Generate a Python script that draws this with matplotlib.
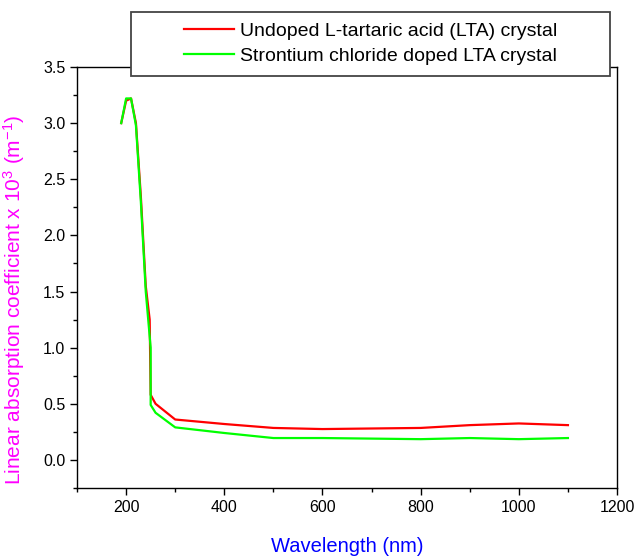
import matplotlib
matplotlib.use("Agg")
import matplotlib.pyplot as plt
from matplotlib.ticker import MultipleLocator
from matplotlib.patches import Rectangle

plt.rcParams['font.family'] = ['Liberation Sans', 'DejaVu Sans']
plt.rcParams['mathtext.fontset'] = 'custom'
plt.rcParams['mathtext.rm'] = 'Liberation Sans'
plt.rcParams['mathtext.it'] = 'Liberation Sans'

wl_undoped = [190, 200, 210, 220, 230, 240, 248, 250, 260, 300, 400, 500, 600, 700, 800, 900, 1000, 1100]
abs_undoped = [3.0, 3.2, 3.22, 3.0, 2.35, 1.55, 1.25, 0.58, 0.5, 0.36, 0.32, 0.285, 0.275, 0.28, 0.285, 0.31, 0.325, 0.31]

wl_doped = [190, 200, 210, 220, 230, 240, 250, 250, 260, 300, 400, 500, 600, 700, 800, 900, 1000, 1100]
abs_doped = [3.0, 3.22, 3.22, 2.98, 2.3, 1.5, 1.0, 0.49, 0.42, 0.29, 0.24, 0.195, 0.195, 0.19, 0.185, 0.195, 0.185, 0.195]

label_undoped = "Undoped L-tartaric acid (LTA) crystal"
label_doped = "Strontium chloride doped LTA crystal"

fig = plt.figure(figsize=(6.35, 5.56), dpi=100)
ax = fig.add_axes([0.1213, 0.1223, 0.8504, 0.7572])

ax.plot(wl_undoped, abs_undoped, color='#ff0000', lw=1.6, label=label_undoped, zorder=2)
ax.plot(wl_doped, abs_doped, color='#00ff00', lw=1.6, label=label_doped, zorder=3)

ax.set_xlim(100, 1200)
ax.set_ylim(-0.25, 3.5)
ax.xaxis.set_major_locator(MultipleLocator(200))
ax.xaxis.set_minor_locator(MultipleLocator(100))
ax.yaxis.set_major_locator(MultipleLocator(0.5))
ax.yaxis.set_minor_locator(MultipleLocator(0.25))
ax.yaxis.set_major_formatter(matplotlib.ticker.FormatStrFormatter('%.1f'))
ax.xaxis.set_major_formatter(matplotlib.ticker.FormatStrFormatter('%d'))

ax.tick_params(which='both', direction='out', top=False, right=False, labelsize=11.5, width=1.0)
ax.tick_params(which='major', length=5)
ax.tick_params(which='minor', length=3)
for s in ax.spines.values():
    s.set_linewidth(1.0)

ax.set_xlabel("Wavelength (nm)", color='#0000ff', fontsize=14.5, labelpad=16)
ax.set_ylabel("Linear absorption coefficient x 10$^{3}$ (m$^{-1}$)", color='#ff00ff', fontsize=15)
ax.yaxis.set_label_coords(-0.093, 0.447)

# legend frame (drawn separately so the entries stay centred)
frame = Rectangle((0.1, 0.979), 0.887, 0.152, transform=ax.transAxes, facecolor='white',
                  edgecolor='#444444', linewidth=1.3, clip_on=False, zorder=9)
ax.add_patch(frame)
leg = ax.legend(loc='center', bbox_to_anchor=(0.1 + 0.887 / 2, 0.979 + 0.152 / 2), fontsize=14,
                frameon=False, handlelength=2.6, handletextpad=0.3, labelspacing=0.38,
                borderaxespad=0, borderpad=0)
leg.set_zorder(10)

fig.savefig("out.png", dpi=100)
